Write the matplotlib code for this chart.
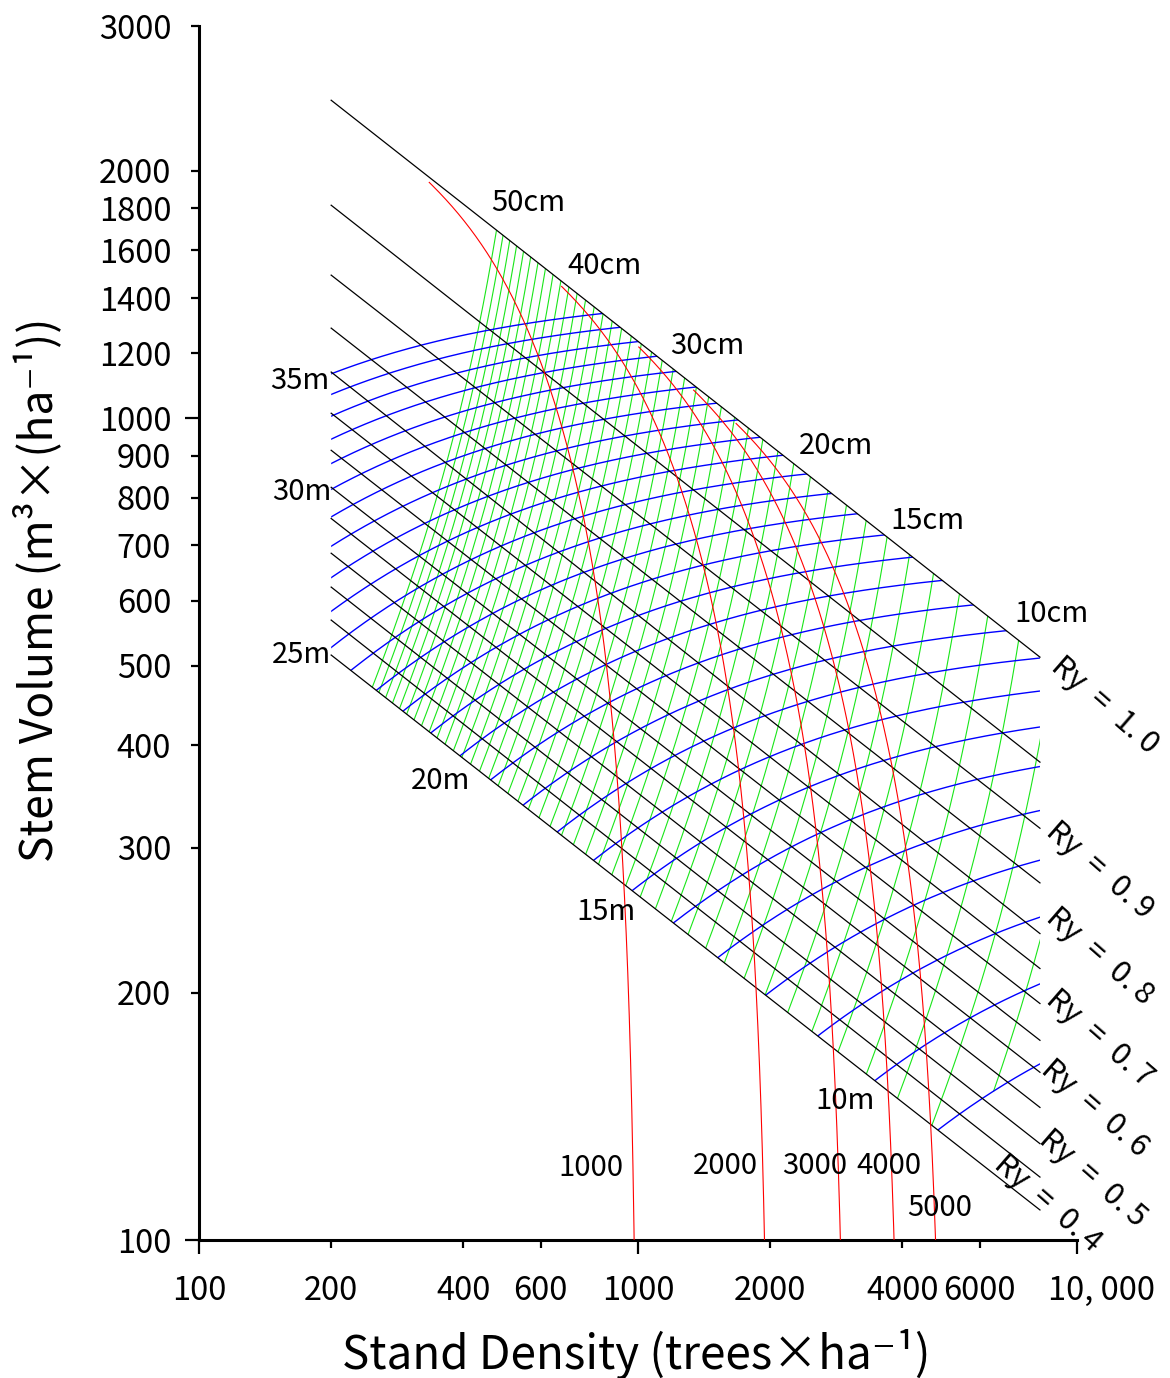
import numpy as np
import matplotlib.pyplot as plt
from matplotlib.patches import Polygon
from matplotlib.transforms import ScaledTranslation

plt.rcParams['font.family'] = ['Noto Sans CJK JP', 'DejaVu Sans']

# Ry (yield index) lines: straight in log-log, read at both ends
ry_values  = [1.0, 0.95, 0.9, 0.85, 0.8, 0.75, 0.7, 0.65, 0.6, 0.55, 0.5, 0.45, 0.4]
ry_n_ends  = [200, 8235]
ry_v_left  = [2437, 1816, 1493, 1287, 1138, 1014, 914, 824, 755, 685, 623, 568, 515]
ry_v_right = [512, 381.5, 317, 272, 236, 214, 194, 175, 160, 145, 131, 119.3, 108.8]
ry_labels  = ['1.0', '0.9', '0.8', '0.7', '0.6', '0.5', '0.4']

# dominant height curves (m): 1/V = a1*H^a2 + b1*H^b2 / N
heights = list(range(9, 36))
height_coef = [0.0832, -1.343, 2.333e5, -4.41]

# mean DBH curves (cm): v = c * D^p * H^q
diameters = list(range(8, 51))
diam_coef = [4.84e-5, 1.844, 1.07]

# natural thinning curves from initial densities, converging on Ry = 1.0
initial_density = [1000, 2000, 3000, 4000, 5000]
thin_coef = [1.85, 0.15, 0.99]

x_ticks_major = [100, 1000, 10000]
x_ticks_minor = [200, 400, 600, 2000, 4000, 6000]
x_labels_major = ['100', '1000', '10, 000']
y_ticks_major = [100, 1000]
y_ticks_minor = [200, 300, 400, 500, 600, 700, 800, 900, 1200, 1400, 1600, 1800, 2000, 3000]


def height_curve(H, N):
    a1, a2, b1, b2 = height_coef
    return 1.0 / (a1 * H ** a2 + b1 * H ** b2 / N)


fig = plt.figure(figsize=(11.7, 13.78), dpi=100)
ax = fig.add_axes([0.1701, 0.1001, 0.7504, 0.8810])
ax.set_xscale('log')
ax.set_yscale('log')
ax.set_xlim(100, 10000)
ax.set_ylim(100, 3000)

n0, n1 = ry_n_ends
region = Polygon([(n0, ry_v_left[0]), (n1, ry_v_right[0]),
                  (n1, ry_v_right[-1]), (n0, ry_v_left[-1])],
                 closed=True, transform=ax.transData)
under_full = Polygon([(n0, ry_v_left[0]), (n1, ry_v_right[0]),
                      (n1, 50), (n0, 50)],
                     closed=True, transform=ax.transData)

# green: equal mean diameter
a1, a2, b1, b2 = height_coef
c, p, q = diam_coef
Hs = np.linspace(9, 50, 600)
for D in diameters:
    v = c * D ** p * Hs ** q
    N = (1.0 / v - b1 * Hs ** b2) / (a1 * Hs ** a2)
    ok = N > 0
    ln, = ax.plot(N[ok], N[ok] * v[ok], color='#19e619', lw=0.8, zorder=2)
    ln.set_clip_path(region)

# blue: equal height
Ns = np.logspace(np.log10(n0), np.log10(n1), 500)
for H in heights:
    ln, = ax.plot(Ns, height_curve(H, Ns), color='#0000ff', lw=1.0, zorder=3)
    ln.set_clip_path(region)

# black: Ry lines
for vl, vr in zip(ry_v_left, ry_v_right):
    ax.plot(ry_n_ends, [vl, vr], color='black', lw=0.9, zorder=4)

# red: natural thinning, tending to the full density (Ry = 1.0) line
slope = np.log(ry_v_right[0] / ry_v_left[0]) / np.log(n1 / n0)
alpha = 1.0 - slope
K = ry_v_left[0] * n0 ** (-slope)
g0, g1, stop = thin_coef
vs = np.logspace(-2.5, 1.5, 3000)
n_full = (K / vs) ** (1.0 / alpha)
for N0 in initial_density:
    gam = g0 + g1 * (N0 / n_full) ** 2
    N = (N0 ** (-gam) + n_full ** (-gam)) ** (-1.0 / gam)
    ok = N / n_full < stop
    ln, = ax.plot(N[ok], N[ok] * vs[ok], color='#ff0000', lw=0.8, zorder=5)
    ln.set_clip_path(under_full)

# labels inside the diagram
fs_in = 21
for txt, x, y in [('50cm', 561.6, 1826), ('40cm', 841, 1530), ('30cm', 1436, 1224),
                  ('20cm', 2825, 924.7), ('15cm', 4552, 749.4), ('10cm', 8770, 577.6),
                  ('35m', 169.9, 1109), ('30m', 171.6, 812.8), ('25m', 171.6, 514.8),
                  ('20m', 355.8, 361.7), ('15m', 845.5, 250.6), ('10m', 2961, 147.6),
                  ('1000', 781.4, 122.3), ('2000', 1578, 123), ('3000', 2530, 123),
                  ('4000', 3731, 123), ('5000', 4875, 109.4)]:
    ax.text(x, y, txt, fontsize=fs_in, ha='center', va='center', zorder=6)

for txt, x, y in zip(ry_labels,
                     [11580, 11280, 11280, 11280, 10990, 10870, 8590],
                     [447.6, 281.9, 221.5, 176.1, 144.7, 119.0, 110.9]):
    ax.text(x, y, 'Ry\u2002=\u2002' + txt.replace('.', '.\u2009'), fontsize=22,
            rotation=-41, rotation_mode='anchor',
            ha='center', va='center', clip_on=False, zorder=6)

# axes styling
for side in ['top', 'right']:
    ax.spines[side].set_visible(False)
for side in ['left', 'bottom']:
    ax.spines[side].set_linewidth(2.2)

ax.set_xticks(x_ticks_major, labels=x_labels_major)
ax.set_xticks(x_ticks_minor, labels=[str(t) for t in x_ticks_minor], minor=True)
ax.set_yticks(y_ticks_major, labels=[str(t) for t in y_ticks_major])
ax.set_yticks(y_ticks_minor, labels=[str(t) for t in y_ticks_minor], minor=True)
ax.tick_params(which='major', length=10, width=1.6, labelsize=23.5, pad=10)
ax.tick_params(which='minor', length=6, width=1.6, labelsize=23.5, pad=14)
ax.tick_params(axis='x', which='major', pad=15)
ax.tick_params(axis='x', which='minor', pad=19)

lab = ax.xaxis.get_majorticklabels()[-1]
lab.set_transform(lab.get_transform() + ScaledTranslation(0.25, 0, fig.dpi_scale_trans))

fig.text(0.0325, 0.5718, 'Stem Volume (m³×(ha⁻¹))', rotation=90,
         ha='center', va='center', fontsize=32)
fig.text(0.5436, 0.0167, 'Stand Density (trees×ha⁻¹)',
         ha='center', va='center', fontsize=33)

fig.savefig('out.png', dpi=100)
